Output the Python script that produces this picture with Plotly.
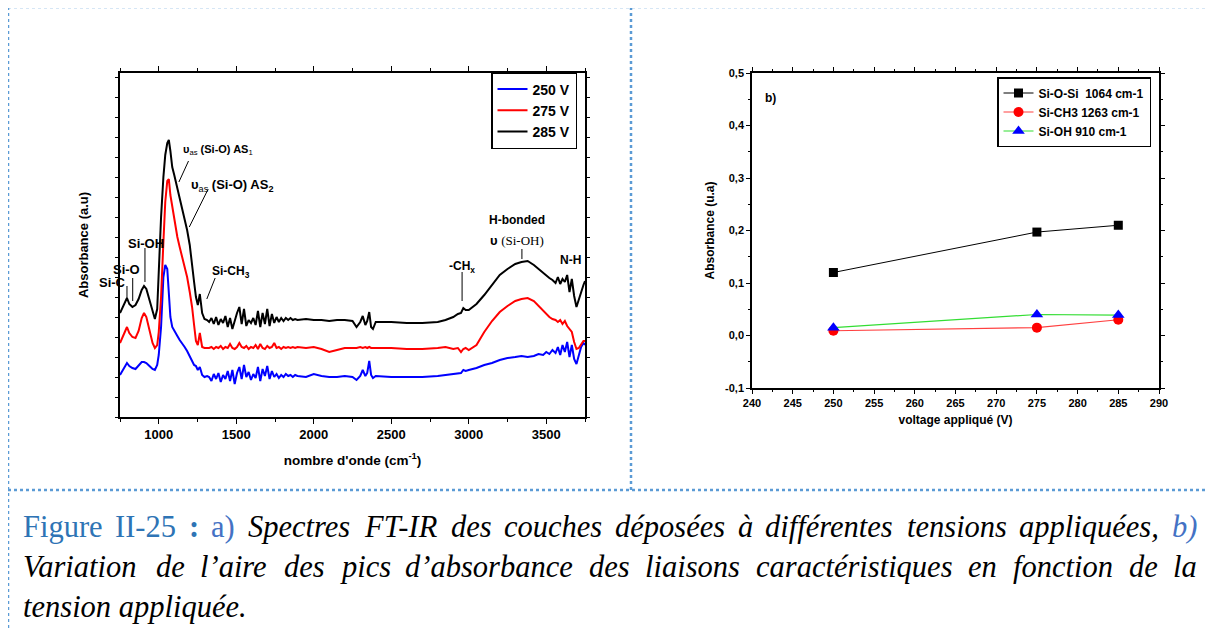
import plotly.graph_objects as go

W, H = 1213, 630
OFF = 8  # page body margin of the browser

# ---------------- data: FT-IR spectra (a) ----------------
wavenumber = [
    750, 770, 795, 810, 830, 850, 870, 890, 905, 920, 940, 960, 975, 990, 1000, 1015, 1030, 1042, 1055, 1065,
    1075, 1087, 1100, 1120, 1135, 1150, 1167, 1183, 1200, 1215, 1228, 1240, 1252, 1265, 1280, 1295, 1312,
    1325, 1340, 1355, 1370, 1385, 1400, 1415, 1430, 1445, 1460, 1475, 1490, 1505, 1520, 1535, 1550, 1565, 1580,
    1595, 1610, 1625, 1640, 1655, 1670, 1685, 1700, 1715, 1730, 1745, 1760, 1775, 1790, 1805, 1820, 1835, 1850,
    1865, 1880, 1895,
    1950, 2000, 2050, 2100, 2150, 2200, 2250, 2276, 2300, 2316, 2333, 2345, 2358, 2370, 2382, 2400, 2500, 2600,
    2700, 2800, 2850, 2900, 2930, 2950, 2965, 2980, 3000, 3050, 3100, 3150, 3200, 3250, 3300, 3340, 3380, 3420,
    3450, 3480, 3500, 3520, 3540, 3560, 3575, 3590, 3605, 3620, 3635, 3650, 3665, 3680, 3695, 3710, 3725, 3740, 3750,
]

abs_250 = [
    42, 48, 54, 51, 49, 48, 51, 55, 55, 54, 51, 48, 47, 52, 62, 90, 140, 152, 148, 118,
    100, 90, 86, 81, 77, 74, 70, 66, 61, 56, 52, 51, 47, 50, 42, 40, 41,
    40, 36, 43, 38, 44, 35, 42, 38, 46, 36, 47, 33, 44, 50, 38, 52, 40, 45,
    37, 43, 39, 50, 36, 48, 41, 51, 38, 46, 40, 43, 39, 42, 40, 43, 41, 42,
    40, 42, 41,
    40, 43, 41, 40, 40, 41, 40, 37, 41, 47, 41, 44, 56, 42, 39, 41, 40, 40,
    40, 41, 42, 43, 44, 44, 47, 46, 47, 49, 52, 54, 57, 59, 60, 61, 60, 61,
    63, 62, 65, 63, 67, 64, 70, 62, 72, 65, 75, 60, 72, 58, 53, 62, 70, 74, 72,
]

abs_275 = [
    74, 82, 90, 84, 80, 79, 86, 99, 104, 100, 88, 74, 69, 72, 85, 120, 175, 215, 236, 238,
    222, 210, 196, 180, 170, 161, 150, 140, 125, 110, 92, 76, 72, 84, 70, 69, 69,
    69, 70, 68, 70, 69, 71, 68, 70, 69, 73, 69, 68, 70, 74, 70, 69, 71, 68,
    70, 69, 72, 68, 73, 69, 68, 71, 69, 70, 74, 69, 70, 68, 70, 69, 70, 69,
    70, 69, 70,
    69, 70, 68, 65, 67, 69, 69, 69, 70, 69, 70, 69, 70, 69, 69, 69, 69, 68,
    68, 69, 70, 68, 69, 65, 68, 69, 67, 72, 85, 96, 105, 111, 116, 118, 119, 116,
    111, 106, 103, 100, 98, 97, 95, 97, 93, 96, 91, 88, 85, 75, 68, 69, 73, 76, 76,
]

abs_285 = [
    104, 110, 119, 113, 110, 112, 118, 127, 131, 128, 117, 104, 98, 108, 150, 200, 240, 262, 274, 277,
    266, 250, 242, 229, 219, 208, 197, 187, 172, 155, 135, 120, 112, 123, 104, 98, 97,
    95, 99, 93, 100, 92, 98, 94, 101, 90, 99, 88, 97, 104, 110, 93, 108, 91, 97,
    94, 99, 92, 106, 90, 104, 93, 108, 91, 103, 94, 100, 95, 99, 96, 99, 97, 99,
    97, 98, 97,
    98, 97, 97, 96, 97, 97, 96, 90, 95, 101, 92, 96, 105, 90, 88, 95, 95, 94,
    94, 95, 97, 100, 103, 104, 109, 107, 107, 113, 122, 132, 142, 148, 153, 155, 156, 152,
    148, 144, 141, 139, 137, 134, 140, 133, 138, 135, 142, 125, 138, 121, 110, 118, 124, 132, 136,
]

spectra_names = ["250 V", "275 V", "285 V"]
spectra_colors = ["#0000ff", "#ff0000", "#000000"]

# ---------------- data: peak absorbance vs voltage (b) ----------------
voltage = [250, 275, 285]
si_o_si = [0.120, 0.197, 0.210]
si_ch3 = [0.009, 0.015, 0.030]
si_oh = [0.015, 0.040, 0.039]

x2_ticks = [240, 245, 250, 255, 260, 265, 270, 275, 280, 285, 290]
y2_ticks = [-0.1, 0.0, 0.1, 0.2, 0.3, 0.4, 0.5]
y2_ticktext = ["-0,1", "0,0", "0,1", "0,2", "0,3", "0,4", "0,5"]

ARIAL = "Arial, Liberation Sans, sans-serif"
SERIF = "Times New Roman, Liberation Serif, serif"
BORDER = "#5b9bd5"
BLUE_FIG = "#2e74b5"
BLUE_AB = "#4472c4"


def px(x):
    return (x - OFF) / W


def py(y):
    return 1 - (y - OFF) / H


fig = go.Figure()

for name, col, ys in zip(spectra_names, spectra_colors, [abs_250, abs_275, abs_285]):
    fig.add_trace(go.Scatter(x=wavenumber, y=ys, mode="lines", name=name,
                             line=dict(color=col, width=2), xaxis="x", yaxis="y",
                             legend="legend"))

fig.add_trace(go.Scatter(x=voltage, y=si_o_si, mode="lines+markers", name="Si-O-Si  1064 cm-1",
                         line=dict(color="#000000", width=1),
                         marker=dict(symbol="square", size=9, color="#000000"),
                         xaxis="x2", yaxis="y2", legend="legend2"))
fig.add_trace(go.Scatter(x=voltage, y=si_ch3, mode="lines+markers", name="Si-CH3 1263 cm-1",
                         line=dict(color="#ff4040", width=1.2),
                         marker=dict(symbol="circle", size=10, color="#ff0000"),
                         xaxis="x2", yaxis="y2", legend="legend2"))
fig.add_trace(go.Scatter(x=voltage, y=si_oh, mode="lines+markers", name="Si-OH 910 cm-1",
                         line=dict(color="#33dd33", width=1.2),
                         marker=dict(symbol="triangle-up", size=11, color="#0000ff"),
                         xaxis="x2", yaxis="y2", legend="legend2"))

axis_common = dict(showline=True, linecolor="black", linewidth=1.5, mirror="ticks",
                   showgrid=False, zeroline=False, ticks="outside", tickcolor="black",
                   automargin=False)

fig.update_layout(
    template="none",
    width=W, height=H,
    margin=dict(l=0, r=0, t=0, b=0, pad=0),
    paper_bgcolor="white", plot_bgcolor="white",
    font=dict(family=ARIAL, color="black"),
    xaxis=dict(domain=[px(120), px(585)], range=[750, 3750], tickvals=[1000, 1500, 2000, 2500, 3000, 3500],
               ticklen=5, tickwidth=1, anchor="y",
               minor=dict(dtick=250, tick0=750, ticks="outside", ticklen=3, tickcolor="black"),
               tickfont=dict(size=13, weight="bold"),
               title=dict(text="nombre d'onde (cm<sup>-1</sup>)", font=dict(size=13.5, weight="bold"), standoff=14),
               **axis_common),
    yaxis=dict(domain=[py(417), py(73)], range=[0, 344], dtick=20, tick0=0, ticklen=3,
               showticklabels=False, anchor="x",
               title=dict(text="Absorbance (a.u)", font=dict(size=13, weight="bold"), standoff=24),
               **axis_common),
    xaxis2=dict(domain=[px(752), px(1159)], range=[240, 290], tickvals=x2_ticks,
                ticklen=4, anchor="y2",
                minor=dict(dtick=2.5, tick0=240, ticks="outside", ticklen=2, tickcolor="black"),
                tickfont=dict(size=11, weight="bold"),
                title=dict(text="voltage appliqué (V)", font=dict(size=12, weight="bold"), standoff=8),
                **axis_common),
    yaxis2=dict(domain=[py(388), py(73)], range=[-0.1, 0.5], tickvals=y2_ticks, ticktext=y2_ticktext,
                ticklen=4, anchor="x2",
                minor=dict(dtick=0.05, tick0=-0.1, ticks="outside", ticklen=2, tickcolor="black"),
                tickfont=dict(size=11, weight="bold"),
                title=dict(text="Absorbance (u.a)", font=dict(size=12, weight="bold"), standoff=8),
                **axis_common),
    legend=dict(x=px(491), y=py(72), xanchor="left", yanchor="top", bgcolor="white",
                bordercolor="black", borderwidth=1.5, font=dict(size=14, weight="bold"),
                tracegroupgap=0, itemwidth=30),
    legend2=dict(x=px(997), y=py(77), xanchor="left", yanchor="top", bgcolor="white",
                 bordercolor="black", borderwidth=1.5, font=dict(size=12, weight="bold"),
                 tracegroupgap=0, itemwidth=30),
)

# ---- annotation labels for the spectra ----
labels = [
    ("<b>υ</b><sub>as</sub> <b>(Si-O) AS</b><sub>1</sub>", 181, 150, 11, "left"),
    ("<b>υ</b><sub>as</sub> <b>(Si-O) AS<sub>2</sub></b>", 189, 185, 13, "left"),
    ("<b>Si-OH</b>", 146, 243, 13, "center"),
    ("<b>Si-O</b>", 126, 269, 13, "center"),
    ("<b>Si-C</b>", 112, 282, 13, "center"),
    ("<b>Si-CH<sub>3</sub></b>", 231, 272, 12, "center"),
    ("<b>-CH<sub>x</sub></b>", 462, 267, 12, "center"),
    ("<b>H-bonded</b>", 517, 220, 12, "center"),
    ("<b>υ</b> <span style=\"font-family:'Liberation Serif'\">(Si-OH)</span>", 517, 240, 13, "center"),
    ("<b>N-H</b>", 570, 260, 12, "center"),
    ("<b>b)</b>", 770, 98, 12, "center"),
]
for text, x, y, size, anchor in labels:
    fig.add_annotation(text=text, x=px(x), y=py(y), xref="paper", yref="paper",
                       xanchor=anchor, yanchor="middle", showarrow=False,
                       font=dict(size=size, family=ARIAL, color="black"))

leaders = [
    (1130, 235, 1192, 256),
    (1197, 190, 1319, 228),
    (911, 135, 911, 169),
    (832, 116, 832, 139),
    (795, 119, 795, 131),
    (1310, 118, 1364, 139),
    (2957, 116, 2957, 145),
    (3343, 158, 3343, 168),
]
for x0, y0, x1, y1 in leaders:
    fig.add_shape(type="line", x0=x0, y0=y0, x1=x1, y1=y1, xref="x", yref="y",
                  line=dict(color="black", width=1))

# ---- dotted table borders ----
for x0, y0, x1, y1 in [(8, 7, 1221, 7), (8, 7, 8, 640), (631, 7, 631, 490), (8, 490, 1221, 490)]:
    fig.add_shape(type="line", x0=px(x0), y0=py(y0), x1=px(x1), y1=py(y1), xref="paper", yref="paper",
                  line=dict(color=BORDER, width=2.5, dash="dot"))

# ---- caption: justified text (word positions from Times metrics) ----
ITALIC_W = {
    "a": 500, "b": 500, "c": 444, "d": 500, "e": 444, "f": 278, "g": 500, "h": 500, "i": 278, "l": 278,
    "m": 722, "n": 500, "o": 500, "p": 500, "q": 500, "r": 389, "s": 389, "t": 278, "u": 500, "v": 444,
    "é": 444, "à": 500, "S": 500, "F": 611, "T": 556, "I": 333, "R": 611, "V": 611, "-": 333, ",": 250,
    ".": 250, "’": 333, ")": 333,
}
ROMAN_W = {
    "F": 556, "i": 278, "g": 500, "u": 500, "r": 333, "e": 444, "I": 333, "-": 333, "2": 500, "5": 500,
    ":": 333, "a": 444, ")": 333,
}
CAP_SIZE = 30.5
LEFT, RIGHT = 21, 1195


def word_width(word, table):
    return sum(table.get(ch, 500) for ch in word) / 1000 * CAP_SIZE


caption_lines = [
    (527, True, [
        ('<span style="color:%s">Figure</span>' % BLUE_FIG, "Figure", ROMAN_W),
        ('<span style="color:%s">II-25</span>' % BLUE_FIG, "II-25", ROMAN_W),
        ('<span style="color:%s"><b>:</b></span>' % BLUE_FIG, ":", ROMAN_W),
        ('<span style="color:%s">a)</span>' % BLUE_AB, "a)", ROMAN_W),
        ("<i>Spectres</i>", "Spectres", ITALIC_W), ("<i>FT-IR</i>", "FT-IR", ITALIC_W),
        ("<i>des</i>", "des", ITALIC_W), ("<i>couches</i>", "couches", ITALIC_W),
        ("<i>déposées</i>", "déposées", ITALIC_W), ("<i>à</i>", "à", ITALIC_W),
        ("<i>différentes</i>", "différentes", ITALIC_W), ("<i>tensions</i>", "tensions", ITALIC_W),
        ("<i>appliquées,</i>", "appliquées,", ITALIC_W),
        ('<span style="color:%s"><i>b)</i></span>' % BLUE_AB, "b)", ITALIC_W),
    ]),
    (567, True, [
        ("<i>%s</i>" % w, w, ITALIC_W) for w in
        ["Variation", "de", "l’aire", "des", "pics", "d’absorbance", "des", "liaisons",
         "caractéristiques", "en", "fonction", "de", "la"]
    ]),
    (607, False, [("<i>tension appliquée.</i>", "tension appliquée.", ITALIC_W)]),
]

for y, justify, words in caption_lines:
    widths = [word_width(plain, tab) for _, plain, tab in words]
    if justify and len(words) > 1:
        gap = (RIGHT - LEFT - sum(widths)) / (len(words) - 1)
    else:
        gap = 0
    x = LEFT
    for (html, _, _), w in zip(words, widths):
        fig.add_annotation(text=html, x=px(x), y=py(y), xref="paper", yref="paper",
                           xanchor="left", yanchor="middle", showarrow=False,
                           font=dict(size=CAP_SIZE, family=SERIF, color="black"))
        x += w + gap

fig.write_html("out.html")
